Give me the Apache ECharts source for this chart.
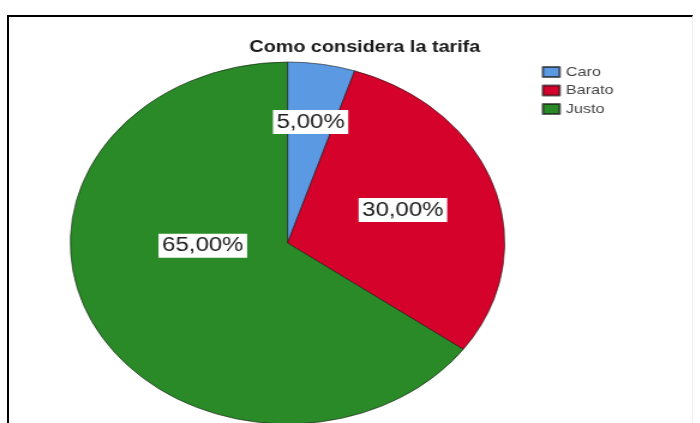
<!DOCTYPE html>
<html>
<head>
<meta charset="utf-8">
<script src="https://cdn.jsdelivr.net/npm/echarts/dist/echarts.min.js"></script>
<style>
html,body{margin:0;padding:0;background:#fff;width:700px;height:423px;overflow:hidden;}
#frame{position:absolute;left:7px;top:15px;width:683px;height:420px;border-left:2px solid #000;border-top:2px solid #000;border-right:1px solid #f0f0f0;}
#chart{position:absolute;left:0;top:0;width:583.33px;height:423px;transform:scaleX(1.2);transform-origin:0 0;}
</style>
</head>
<body>
<div id="frame"></div>
<div id="chart"></div>
<script>
const categories = ['Caro', 'Barato', 'Justo'];
const percentages = [5, 30, 65];
const sliceColors = ['#5b9ae3', '#d5022b', '#2a8a27'];
const chartTitle = 'Como considera la tarifa';
// label nudges (pre-scale px) from default inside position
const labelNudges = [[4.6, -28.6], [7.2, -4], [12.7, -39.6]];

const FONT = '"Liberation Sans", Arial, sans-serif';
const chart = echarts.init(document.getElementById('chart'), null, {renderer: 'canvas'});
chart.setOption({
  animation: false,
  backgroundColor: 'transparent',
  title: {
    text: chartTitle,
    left: 304,
    textAlign: 'center',
    top: 38.5,
    padding: 0,
    textStyle: {fontFamily: FONT, fontSize: 16.5, fontWeight: 'bold', color: '#1a1a1a'}
  },
  legend: {
    orient: 'vertical',
    left: 451.4,
    top: 65,
    padding: 0,
    itemWidth: 14,
    itemHeight: 10,
    itemGap: 4.5,
    icon: 'rect',
    selectedMode: false,
    data: categories,
    textStyle: {fontFamily: FONT, fontSize: 13.5, lineHeight: 13, color: '#444'}
  },
  series: [{
    type: 'pie',
    center: [239.6, 243],
    radius: 181,
    startAngle: 90,
    clockwise: true,
    silent: true,
    emphasis: {disabled: true},
    itemStyle: {borderColor: 'rgba(20,20,20,0.65)', borderWidth: 0.9},
    label: {
      show: true,
      position: 'inside',
      fontFamily: FONT,
      fontSize: 20,
      color: '#222',
      backgroundColor: '#fff',
      padding: [3, 3, 1, 3],
      formatter: p => p.value.toFixed(2).replace('.', ',') + '%'
    },
    labelLayout: p => ({dx: labelNudges[p.dataIndex][0], dy: labelNudges[p.dataIndex][1]}),
    data: categories.map((c, i) => ({name: c, value: percentages[i], itemStyle: {color: sliceColors[i]}}))
  }]
});
</script>
</body>
</html>
